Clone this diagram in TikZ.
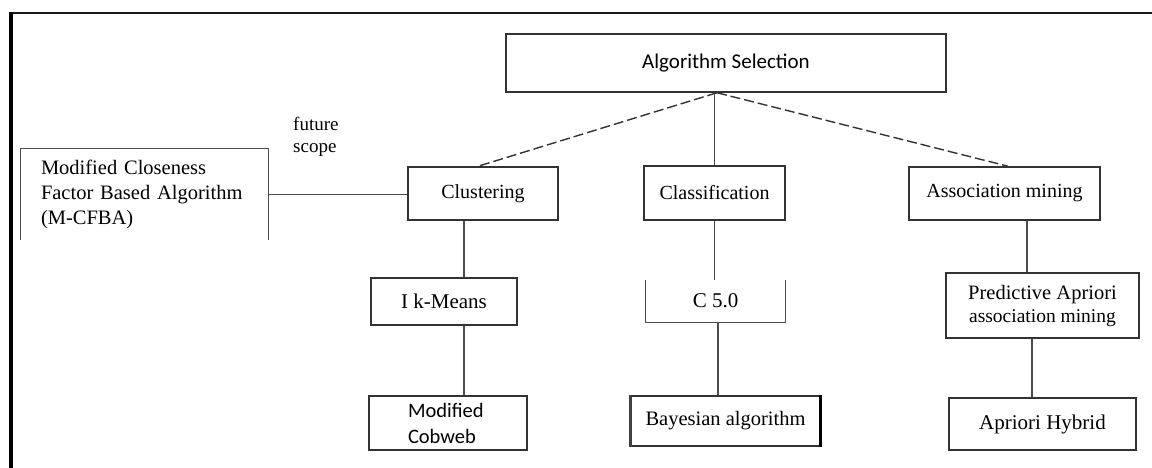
\documentclass[tikz,border=0pt]{standalone}
\usepackage{fontspec}
\setmainfont{Liberation Serif}
\newfontfamily\sansfnt{Carlito}
\begin{document}
\begin{tikzpicture}[x=1pt,y=-1pt,
  boxline/.style={draw=black!80, line width=1.5pt},
  box/.style={boxline, rectangle, inner sep=0pt, align=center, font=\fontsize{20}{23}\selectfont},
  openbox/.style={rectangle, inner sep=0pt, align=center, font=\fontsize{20}{23}\selectfont},
  link/.style={draw=black!70, line width=1.2pt},
  dashlink/.style={draw=black!80, line width=1.4pt, dash pattern=on 10pt off 4pt}]
\useasboundingbox (0,0) rectangle (1152,468);
% frame (cropped: only top and left visible)
\draw[black!90, line width=2pt] (10,13) -- (1152,13);
\draw[black, line width=3.5pt] (11,12) -- (11,468);

% nodes
\node[box, minimum width=440pt, minimum height=58pt, font=\sansfnt\fontsize{21}{24}\selectfont] (sel) at (726,63) {Algorithm Selection};
\node[box, minimum width=150pt, minimum height=53pt] (clu) at (483,193.5) {Clustering};
\node[box, minimum width=141pt, minimum height=54pt] (cla) at (714.5,193) {Classification};
\node[box, minimum width=191pt, minimum height=53pt] (asm) at (1004.5,193.5) {Association mining};
\node[openbox, minimum width=247pt, minimum height=91pt, text width=207pt, align=left, font=\fontsize{20.5}{25}\selectfont] (mcf) at (144.5,194.5) {Modified Closeness\\Factor Based Algorithm\\(M-CFBA)};
\node[anchor=base west, align=left, inner sep=0pt, font=\fontsize{19}{22}\selectfont] (fs) at (293,153) {future\\scope};
\node[box, minimum width=146pt, minimum height=47pt, font=\fontsize{21}{24}\selectfont] (ikm) at (444,301.5) {I k-Means};
\node[openbox, minimum width=139pt, minimum height=42pt, font=\fontsize{21}{24}\selectfont] (c50) at (715.5,301) {C 5.0};
\node[box, minimum width=193pt, minimum height=65pt, font=\fontsize{20.5}{23}\selectfont] (pre) at (1042.5,305.5) {Predictive Apriori\\{\fontsize{19.5}{23}\selectfont association mining}};
\node[box, minimum width=158pt, minimum height=54pt, text width=80pt, align=left, font=\sansfnt\fontsize{20.5}{26}\selectfont] (cob) at (448,423) {Modified\\Cobweb};
\node[box, minimum width=189pt, minimum height=50pt, font=\fontsize{20.5}{23}\selectfont] (bay) at (725.5,421) {Bayesian algorithm};
\node[box, minimum width=187pt, minimum height=52pt, font=\fontsize{21}{24}\selectfont] (apr) at (1042.5,424) {Apriori Hybrid};

% partial borders
\draw[draw=black!70, line width=1.2pt] (mcf.south west) -- (mcf.north west) -- (mcf.north east) -- (mcf.south east);
\draw[draw=black!70, line width=1.3pt] (c50.north west) -- (c50.south west) -- (c50.south east) -- (c50.north east);
\draw[black!75, line width=3pt] (bay.north west) -- (bay.south west);
\draw[black, line width=3pt] (bay.north east) -- (bay.south east);

% connectors
\coordinate (apex) at ([xshift=-9pt]sel.south);
\draw[dashlink] (apex) -- ([xshift=-5pt]clu.north);
\draw[dashlink] (apex) -- ([xshift=3.5pt]asm.north);
\draw[link] (cla.north |- sel.south) -- (cla.north);
\draw[link] (mcf.east) -- (mcf.east -| clu.west);
\draw[link] ([xshift=-19pt]clu.south) -- ([xshift=-19pt]clu.south |- ikm.north);
\draw[link] ([xshift=20pt]ikm.south) -- ([xshift=20pt]ikm.south |- cob.north);
\draw[link] (cla.south) -- (cla.south |- c50.north);
\draw[link] ([xshift=2.5pt]c50.south) -- ([xshift=2.5pt]c50.south |- bay.north);
\draw[link] ([xshift=22.5pt]asm.south) -- ([xshift=22.5pt]asm.south |- pre.north);
\draw[link] ([xshift=-10.5pt]pre.south) -- ([xshift=-10.5pt]pre.south |- apr.north);
\end{tikzpicture}
\end{document}
